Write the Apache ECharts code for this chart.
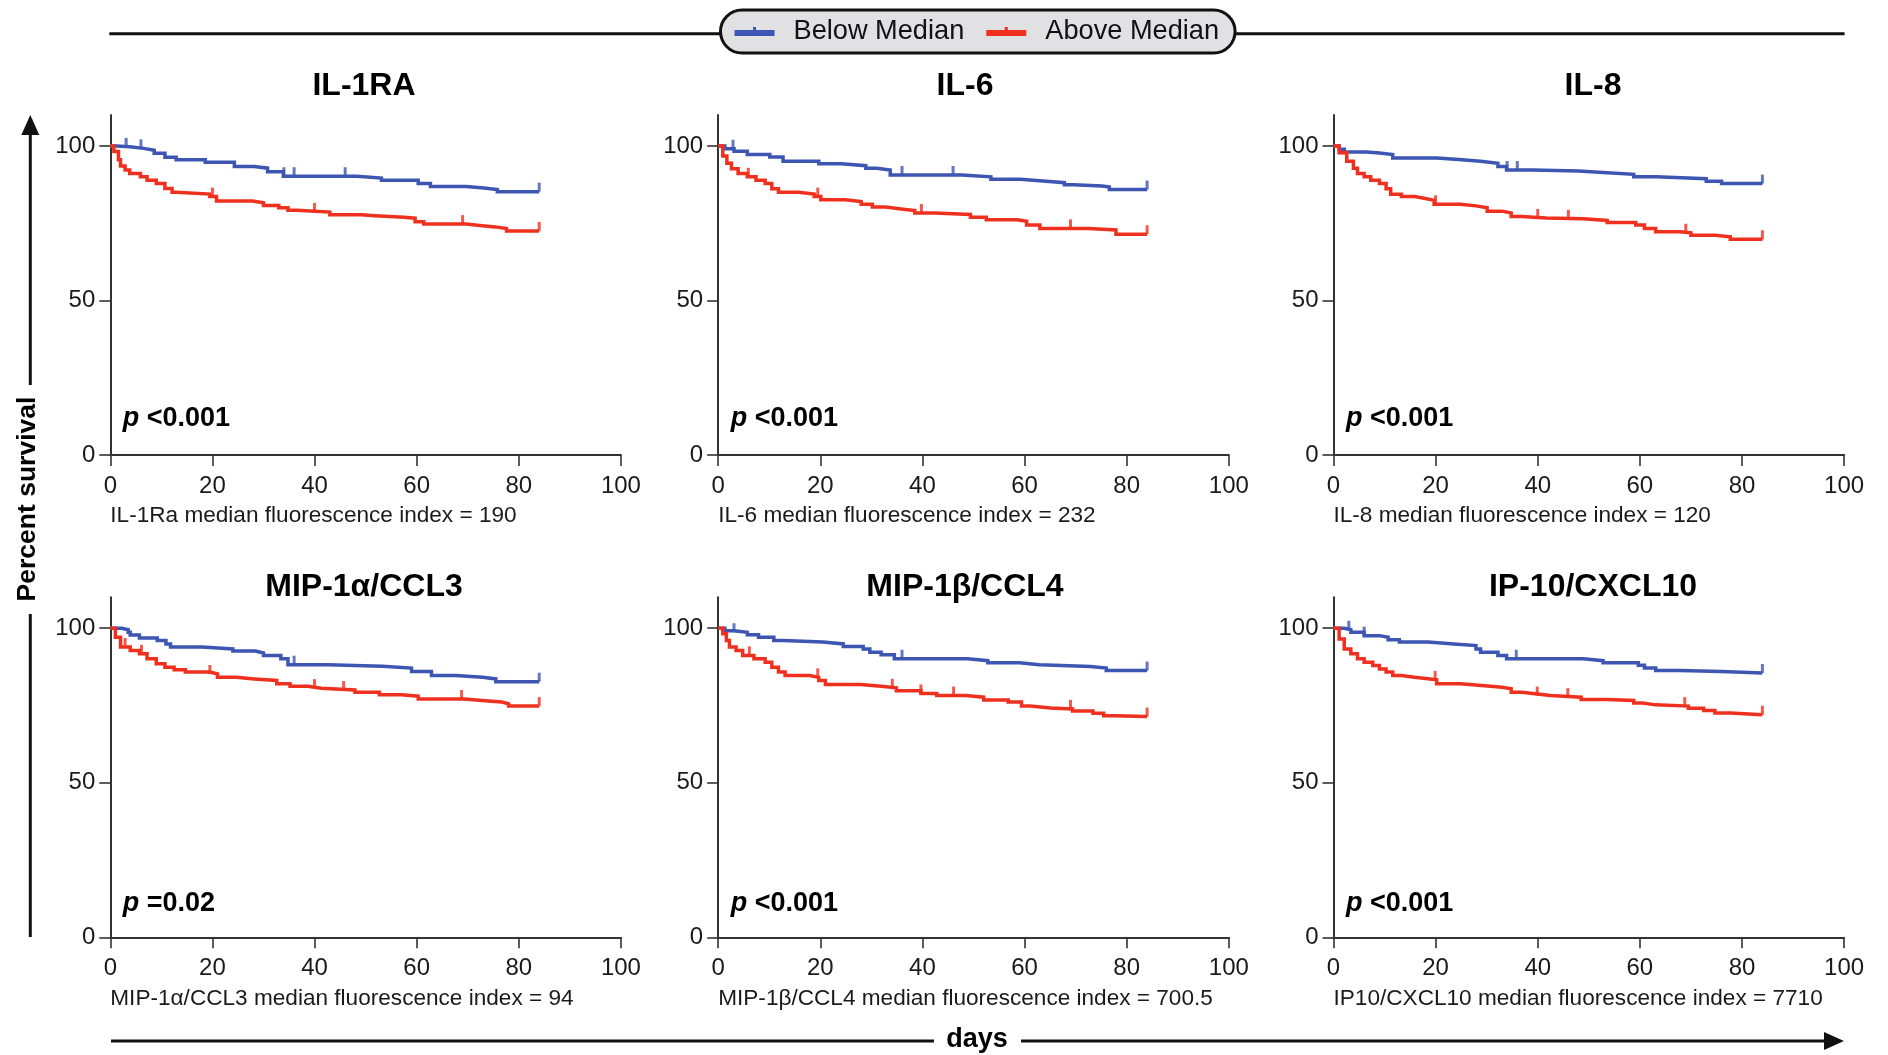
<!DOCTYPE html>
<html>
<head>
<meta charset="utf-8">
<script src="https://cdn.jsdelivr.net/npm/echarts@6/dist/echarts.min.js"></script>
<style>
  html, body { margin: 0; padding: 0; background: #ffffff; }
  #chart { width: 1888px; height: 1055px; }
</style>
</head>
<body>
<div id="chart"></div>
<script>
// ---------------- data ----------------
const xTickValues = [0, 20, 40, 60, 80, 100];
const yTickValues = [0, 50, 100];
const legendNames = ['Below Median', 'Above Median'];
const panelTitles = ['IL-1RA', 'IL-6', 'IL-8', 'MIP-1α/CCL3', 'MIP-1β/CCL4', 'IP-10/CXCL10'];
const panelNotes = [
  'IL-1Ra median fluorescence index = 190',
  'IL-6 median fluorescence index = 232',
  'IL-8 median fluorescence index = 120',
  'MIP-1α/CCL3 median fluorescence index = 94',
  'MIP-1β/CCL4 median fluorescence index = 700.5',
  'IP10/CXCL10 median fluorescence index = 7710'
];
const pValues = ['<0.001', '<0.001', '<0.001', '=0.02', '<0.001', '<0.001'];

// Kaplan-Meier steps: [day of drop, survival % after drop]
const il1raBelow = [[0,100],[1.3,99.7],[3.8,99.2],[6.5,98.6],[8.6,97.6],[10.7,96.3],[12.9,95.5],[18.6,94.7],[24.3,93.3],[28.2,92.8],[30.8,91.6],[33.9,90.2],[48.3,89.6],[53.1,88.9],[60.3,87.8],[62.7,86.9],[69.7,86.4],[73.2,85.9],[75.8,85.2],[84,85.2]];
const il1raAbove = [[0,100],[0.7,98.2],[1.6,95.5],[2.0,93.5],[2.9,92.2],[3.8,91.1],[5.9,90],[7.2,88.9],[9.0,87.8],[10.7,86.2],[12.1,85],[12.9,84.4],[19.5,83.6],[20.8,82.2],[27.8,81.6],[30,80.7],[33,80],[34.8,79.2],[36.5,78.6],[43,77.7],[49.2,77.4],[51.8,76.9],[57.5,76.6],[59.7,75.5],[61.4,74.7],[69.7,74.2],[72.8,73.8],[75.4,73.3],[77.6,72.5],[84,72.5]];
const il1raBelowCensor = [3.1, 6, 34, 36, 46, 84];
const il1raAboveCensor = [20, 40, 69, 84];

const il6Below = [[0,100],[1.3,99.1],[3.1,98.3],[5.7,97.2],[10.1,96.4],[12.7,95],[19.7,94.2],[24.1,93.6],[28.9,92.8],[31.1,92.2],[33.7,90.6],[47.7,90],[53.4,89.2],[59.1,88.7],[63,88.1],[67.8,87.4],[69.6,87],[75.2,86.7],[76.6,85.9],[84,85.9]];
const il6Above = [[0,100],[0.9,96.7],[1.7,94.4],[2.6,92.6],[3.9,91.1],[5.7,90],[7.4,88.9],[9.2,87.8],[10.5,86.1],[11.8,85],[15.7,84.4],[18.8,83.6],[20.1,82.6],[24.9,82],[28,81.1],[30.2,80.2],[32.8,79.7],[35.4,79.1],[38.5,78.3],[42.4,77.8],[49.4,76.9],[52.5,76.1],[58.6,75.6],[60.4,74.4],[63,73.3],[72.6,72.8],[77.9,71.4],[84,71.4]];
const il6BelowCensor = [2.9, 36, 46, 84];
const il6AboveCensor = [5.9, 19.5, 39.8, 69, 84];

const il8Below = [[0,100],[1.1,98.9],[2.1,98],[6.4,97.7],[9.0,97.2],[11.6,96.1],[20.2,95.6],[24.5,95],[28.8,94.4],[32.2,93.3],[33.9,92.2],[39,91.9],[48,91.4],[52.8,90.8],[58.8,90],[63.1,89.4],[73,88.6],[76,87.8],[84,87.8]];
const il8Above = [[0,100],[1.1,97.8],[2.6,95],[3.9,92.8],[4.7,91.1],[6,90],[7.3,88.9],[9,87.8],[10.3,86.1],[11.2,84.4],[13.3,83.6],[15.9,83],[18,82.4],[19.7,81.1],[24.9,80.6],[27.9,80],[30.1,78.9],[33,78.3],[34.8,77.2],[36.9,76.7],[41.6,76.4],[48.9,75.9],[53.6,75.2],[59.2,74.4],[60.9,73.3],[63.1,72.2],[67.8,71.9],[70,71.1],[74.7,70.6],[77.7,69.8],[84,69.8]];
const il8BelowCensor = [34, 36, 84];
const il8AboveCensor = [20, 40, 46, 69, 84];

const ccl3Below = [[0,100],[2.2,99.5],[3.5,98.7],[3.9,97.8],[5.7,96.8],[9.2,96],[10.9,94.9],[11.8,93.9],[17.9,93.3],[24,92.6],[28.4,92],[30,91.2],[33.4,90.1],[34.8,88.2],[42.6,87.7],[53.3,87.1],[59,86],[62.9,84.7],[67.7,84.1],[72.9,83.6],[75.5,82.7],[84,82.7]];
const ccl3Above = [[0,100],[1,97.1],[2,93.9],[3.9,92.8],[5.7,91.7],[7.2,90.1],[9,88.5],[10.7,87.4],[12.5,86.6],[14.7,85.8],[19.5,85.2],[21,84.1],[24.7,83.6],[28.2,83.1],[32.6,82],[35.2,81.2],[38.7,80.6],[41.3,80],[47.9,79.3],[52.7,78.5],[57,78],[60.3,77.1],[69.3,76.6],[72.8,76.1],[76.7,75.5],[78,74.8],[84,74.8]];
const ccl3BelowCensor = [36, 84];
const ccl3AboveCensor = [2.9, 6.1, 19.5, 40, 45.7, 68.8, 84];

const ccl4Below = [[0,100],[1.3,99.2],[3.1,98.7],[5.7,97.9],[7.9,97.1],[10.9,96],[12.7,95.5],[20.5,94.9],[24.5,94.1],[28.4,93.3],[29.7,92.2],[31.9,91.4],[34.5,90.1],[48.9,89.5],[52.8,88.8],[59,88.2],[62.9,87.6],[72.9,87.1],[76,86.3],[84,86.3]];
const ccl4Above = [[0,100],[0.9,98.2],[1.6,96],[2.2,93.9],[3.5,92.8],[4.8,91.2],[7,90.1],[9.2,89],[10.5,87.4],[11.8,85.8],[13.1,84.7],[17.9,84.1],[19.7,83.1],[21,81.8],[27.9,81.2],[31.9,80.7],[34.9,79.8],[39.7,78.9],[42.8,78.2],[48.5,77.7],[52,76.8],[56.8,76.1],[59.4,74.8],[61.1,74.2],[65.1,73.9],[69.4,73.2],[73.4,72.5],[75.5,71.7],[77.7,71.4],[84,71.4]];
const ccl4BelowCensor = [3.1, 36, 84];
const ccl4AboveCensor = [6.1, 19.5, 34.1, 39.7, 46.1, 69, 84];

const cxcl10Below = [[0,100],[2.1,99.5],[3.4,98.7],[6,97.6],[9,97.1],[10.7,96.3],[12.9,95.5],[18.5,94.9],[23.6,94.4],[27.9,93.3],[28.8,92.2],[32.2,91.2],[33.9,90.1],[48.9,89.5],[52.8,88.8],[59.7,88],[60.9,87.1],[63.1,86.3],[67.8,86],[76,85.5],[84,85.5]];
const cxcl10Above = [[0,100],[1.1,96.5],[2.1,93.3],[3.4,91.7],[4.7,90.1],[6,89],[7.7,87.9],[9,86.8],[10.3,85.8],[11.6,84.7],[13.3,84.1],[15.9,83.6],[18.9,83.3],[20.2,82],[24.9,81.4],[29.6,80.9],[33,80.4],[34.8,79.3],[36.9,78.7],[39.9,78.2],[42.5,77.7],[48.5,76.9],[53.6,76.6],[58.8,75.8],[60.5,75.2],[63.1,74.8],[69.5,74.1],[72.5,73.4],[74.7,72.6],[77.7,72],[84,72]];
const cxcl10BelowCensor = [3, 6, 35.8, 84];
const cxcl10AboveCensor = [19.9, 39.9, 45.9, 68.8, 84];

const belowCurves = [il1raBelow, il6Below, il8Below, ccl3Below, ccl4Below, cxcl10Below];
const aboveCurves = [il1raAbove, il6Above, il8Above, ccl3Above, ccl4Above, cxcl10Above];
const belowCensors = [il1raBelowCensor, il6BelowCensor, il8BelowCensor, ccl3BelowCensor, ccl4BelowCensor, cxcl10BelowCensor];
const aboveCensors = [il1raAboveCensor, il6AboveCensor, il8AboveCensor, ccl3AboveCensor, ccl4AboveCensor, cxcl10AboveCensor];

// ---------------- layout / style ----------------
const BLUE = '#3d56b2';
const RED = '#f0301f';
const FONT = '"Liberation Sans", Arial, Helvetica, sans-serif';
const colX = [110.3, 718.2, 1333.5];
const plotW = 510.6;
const rowTop = [115, 597.3];
const plotH = 340;
const titleCX = [364, 965, 1593];
const titleY = [86, 587];
const pY = [418.5, 904];
const noteY = [516, 998.5];

function survivalAt(curve, day) {
  let v = curve[0][1];
  for (const p of curve) { if (p[0] <= day) v = p[1]; }
  return v;
}

const grids = [], xAxes = [], yAxes = [], series = [], graphics = [];
const AXIS_COLOR = '#333';

for (let i = 0; i < 6; i++) {
  const r = Math.floor(i / 3), c = i % 3;
  grids.push({ left: colX[c], top: rowTop[r], width: plotW, height: plotH, containLabel: false });
  xAxes.push({
    type: 'value', gridIndex: i, min: 0, max: 100, interval: 20,
    axisLine: { show: true, onZero: false, lineStyle: { color: AXIS_COLOR, width: 2 } },
    axisTick: { show: true, length: 11, lineStyle: { color: AXIS_COLOR, width: 1.6 } },
    axisLabel: { show: true, margin: 19, fontSize: 24, color: '#1a1a1a', fontFamily: FONT },
    splitLine: { show: false }
  });
  yAxes.push({
    type: 'value', gridIndex: i, min: 0, max: 110,
    axisLine: { show: true, onZero: false, lineStyle: { color: AXIS_COLOR, width: 2 } },
    axisTick: { show: true, length: 11, customValues: yTickValues, lineStyle: { color: AXIS_COLOR, width: 1.6 } },
    axisLabel: { show: true, margin: 15, fontSize: 24, color: '#1a1a1a', fontFamily: FONT, customValues: yTickValues },
    splitLine: { show: false }
  });

  const groups = [
    { name: legendNames[0], color: BLUE, curve: belowCurves[i], censor: belowCensors[i] },
    { name: legendNames[1], color: RED, curve: aboveCurves[i], censor: aboveCensors[i] }
  ];
  groups.forEach((g, k) => {
    series.push({
      type: 'line', name: g.name, xAxisIndex: i, yAxisIndex: i,
      data: g.curve, step: 'end', showSymbol: false, symbol: 'none',
      lineStyle: { color: g.color, width: 3.5, join: 'miter', cap: 'butt' },
      itemStyle: { color: g.color }, z: 3 + k, animation: false, silent: true
    });
    series.push({
      type: 'scatter', name: g.name, xAxisIndex: i, yAxisIndex: i,
      data: g.censor.map(d => [d, survivalAt(g.curve, d)]),
      symbol: 'rect', symbolSize: [3, 9], symbolOffset: [0, -4.5],
      itemStyle: { color: g.color }, z: 3 + k, animation: false, silent: true
    });
  });

  // panel title
  graphics.push({
    type: 'text', x: titleCX[c], y: titleY[r], z: 10,
    style: { text: panelTitles[i], font: 'bold 32px ' + FONT, fill: '#000',
      align: 'center', verticalAlign: 'middle', textAlign: 'center', textVerticalAlign: 'middle' }
  });
  // note under axis
  graphics.push({
    type: 'text', x: colX[c], y: noteY[r], z: 10,
    style: { text: panelNotes[i], font: '22.6px ' + FONT, fill: '#1a1a1a',
      align: 'left', verticalAlign: 'middle', textAlign: 'left', textVerticalAlign: 'middle' }
  });
  // p value
  graphics.push({
    type: 'text', x: colX[c] + 12.5, y: pY[r], z: 10,
    style: {
      text: '{i|p} {b|' + pValues[i] + '}', font: 'bold 27px ' + FONT, fill: '#000',
      align: 'left', verticalAlign: 'middle', textAlign: 'left', textVerticalAlign: 'middle',
      rich: {
        i: { fontStyle: 'italic', fontWeight: 'bold', fontSize: 27, fontFamily: FONT, color: '#000' },
        b: { fontWeight: 'bold', fontSize: 27, fontFamily: FONT, color: '#000' }
      }
    }
  });
}

// top rule behind legend
graphics.push({ type: 'line', z: 0, shape: { x1: 109.3, y1: 33.7, x2: 1844.6, y2: 33.7 }, style: { stroke: '#111', lineWidth: 3 } });
// bottom "days" arrow
graphics.push({ type: 'line', z: 0, shape: { x1: 111, y1: 1041, x2: 934, y2: 1041 }, style: { stroke: '#111', lineWidth: 3 } });
graphics.push({ type: 'line', z: 0, shape: { x1: 1021, y1: 1041, x2: 1830, y2: 1041 }, style: { stroke: '#111', lineWidth: 3 } });
graphics.push({ type: 'polygon', z: 0, shape: { points: [[1824, 1032], [1844, 1041], [1824, 1050]] }, style: { fill: '#111' } });
graphics.push({ type: 'text', x: 977, y: 1040, z: 10,
  style: { text: 'days', font: 'bold 27px ' + FONT, fill: '#000', align: 'center', verticalAlign: 'middle', textAlign: 'center', textVerticalAlign: 'middle' } });
// left "Percent survival" arrow
graphics.push({ type: 'line', z: 0, shape: { x1: 30.3, y1: 130, x2: 30.3, y2: 385 }, style: { stroke: '#111', lineWidth: 3 } });
graphics.push({ type: 'line', z: 0, shape: { x1: 30.3, y1: 614, x2: 30.3, y2: 937 }, style: { stroke: '#111', lineWidth: 3 } });
graphics.push({ type: 'polygon', z: 0, shape: { points: [[21.3, 135], [30.3, 115], [39.3, 135]] }, style: { fill: '#111' } });
graphics.push({ type: 'text', x: 28, y: 499, rotation: Math.PI / 2, z: 10,
  style: { text: 'Percent survival', font: 'bold 26.5px ' + FONT, fill: '#000', align: 'center', verticalAlign: 'middle', textAlign: 'center', textVerticalAlign: 'middle' } });

const legendIcon = 'path://M0,3H40V9H0Z M18.5,0H21.5V3H18.5Z';

const option = {
  animation: false,
  backgroundColor: '#ffffff',
  grid: grids,
  xAxis: xAxes,
  yAxis: yAxes,
  series: series,
  graphic: { elements: graphics },
  legend: {
    show: true, z: 20,
    left: 720.5, top: 10.1,
    orient: 'horizontal',
    padding: [8, 16, 8, 14],
    itemWidth: 40, itemHeight: 9, itemGap: 22,
    backgroundColor: '#e1e1e3', borderColor: '#111', borderWidth: 3, borderRadius: 22,
    selectedMode: false,
    textStyle: { fontSize: 27.2, color: '#111', fontFamily: FONT, padding: [0, 0, 0, 14] },
    data: [
      { name: legendNames[0], icon: legendIcon, itemStyle: { color: BLUE } },
      { name: legendNames[1], icon: legendIcon, itemStyle: { color: RED } }
    ]
  }
};

const chart = echarts.init(document.getElementById('chart'), null, { renderer: 'canvas', width: 1888, height: 1055 });
chart.setOption(option);
</script>
</body>
</html>
